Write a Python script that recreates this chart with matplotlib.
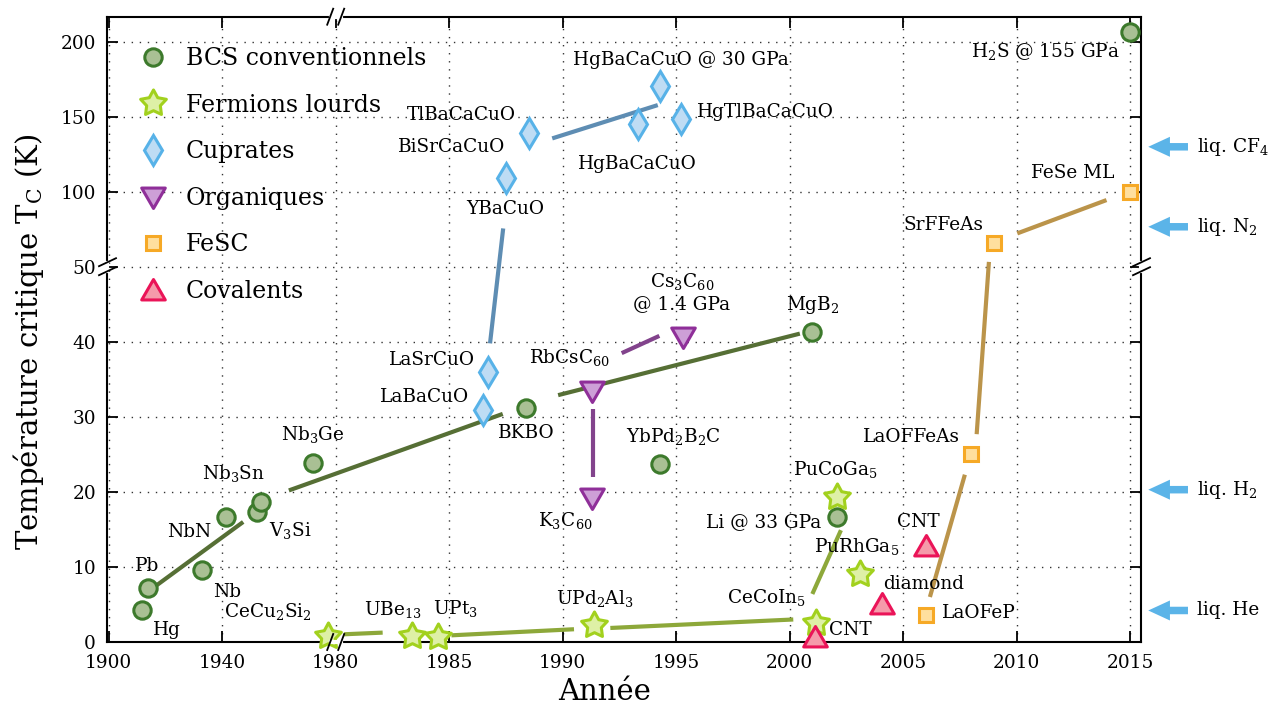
import numpy as np
import matplotlib
matplotlib.use("Agg")
import matplotlib.pyplot as plt
from matplotlib.path import Path
from matplotlib.lines import Line2D

plt.rcParams['font.family'] = ['DejaVu Serif']
plt.rcParams['mathtext.fontset'] = 'custom'
plt.rcParams['mathtext.rm'] = 'DejaVu Serif'
plt.rcParams['mathtext.default'] = 'regular'

# ---------------- data ----------------
bcs_names = ['Hg', 'Pb', 'Nb', 'NbN', 'V3Si', 'Nb3Sn', 'Nb3Ge', 'BKBO', 'MgB2', 'YbPd2B2C', 'Li', 'H2S']
bcs_year = [1911.8, 1914.0, 1933.0, 1941.2, 1952.2, 1953.7, 1972.1, 1988.4, 2001.0, 1994.3, 2002.1, 2015.0]
bcs_tc = [4.2, 7.2, 9.6, 16.7, 17.3, 18.7, 23.9, 31.2, 41.3, 23.7, 16.7, 206.5]

hf_names = ['CeCu2Si2', 'UBe13', 'UPt3', 'UPd2Al3', 'CeCoIn5', 'PuCoGa5', 'PuRhGa5']
hf_year = [1977.4, 1983.35, 1984.5, 1991.4, 2001.15, 2002.1, 2003.1]
hf_tc = [0.8, 0.8, 0.7, 2.2, 2.5, 19.3, 9.1]

cup_names = ['LaBaCuO', 'LaSrCuO', 'YBaCuO', 'BiSrCaCuO/TlBaCaCuO', 'HgBaCaCuO', 'HgBaCaCuO @ 30 GPa', 'HgTlBaCaCuO']
cup_year = [1986.5, 1986.7, 1987.5, 1988.5, 1993.3, 1994.3, 1995.2]
cup_tc = [30.9, 36.0, 108.9, 138.9, 145.1, 170.5, 148.3]

org_names = ['K3C60', 'RbCsC60', 'Cs3C60']
org_year = [1991.3, 1991.3, 1995.3]
org_tc = [19.2, 33.4, 40.6]

fesc_names = ['LaOFeP', 'LaOFFeAs', 'SrFFeAs', 'FeSe ML']
fesc_year = [2006.0, 2008.0, 2009.0, 2015.0]
fesc_tc = [3.6, 25.0, 65.6, 100.0]

cov_names = ['CNT', 'diamond', 'CNT']
cov_year = [2001.1, 2004.05, 2006.0]
cov_tc = [0.6, 5.0, 12.8]

# trend segments (year0, tc0, year1, tc1)
bcs_segs = [(1916.9, 7.56, 1947.4, 16.0), (1963.5, 20.2, 1987.36, 30.4), (1989.8, 32.9, 2000.45, 41.1)]
hf_segs = [(1980.37, 1.03, 1982.07, 1.25), (1985.1, 0.89, 1990.5, 1.7), (1992.1, 1.87, 2000.16, 3.0),
           (2001.0, 6.4, 2002.26, 14.9)]
cup_segs = [(1986.8, 39.8, 1987.38, 75.6), (1989.54, 135.6, 1994.19, 157.8)]
org_segs = [(1991.32, 31.1, 1991.32, 22.0), (1992.6, 38.5, 1994.26, 40.8)]
fesc_segs = [(2006.18, 6.0, 2007.72, 22.3), (2008.24, 27.7, 2008.78, 53.3), (2010.03, 72.3, 2013.96, 94.5)]

# liquid references
liq_labels = ['liq. CF$_4$', 'liq. N$_2$', 'liq. H$_2$', 'liq. He']
liq_tc = [130.0, 76.7, 20.3, 4.2]

# point labels: (text, year, tc, ha)
labels = [
    ('Hg', 1920.4, 1.56, 'center'), ('Pb', 1913.7, 10.1, 'center'), ('Nb', 1941.6, 6.67, 'center'),
    ('NbN', 1928.3, 14.6, 'center'), ('V$_3$Si', 1964.1, 14.9, 'center'),
    ('Nb$_3$Sn', 1943.9, 22.4, 'center'), ('Nb$_3$Ge', 1972.1, 27.6, 'center'),
    ('BKBO', 1988.38, 27.8, 'center'), ('MgB$_2$', 2001.03, 44.9, 'center'),
    ('YbPd$_2$B$_2$C', 1994.87, 27.4, 'center'), ('Li @ 33 GPa', 1998.84, 16.0, 'center'),
    ('H$_2$S @ 155 GPa', 2011.25, 193.3, 'center'),
    ('CeCu$_2$Si$_2$', 1956.25, 4.0, 'center'), ('UBe$_{13}$', 1982.51, 4.36, 'center'),
    ('UPt$_3$', 1985.26, 4.45, 'center'), ('UPd$_2$Al$_3$', 1991.42, 5.83, 'center'),
    ('CeCoIn$_5$', 1998.99, 5.92, 'center'), ('PuCoGa$_5$', 2002.0, 23.0, 'center'),
    ('PuRhGa$_5$', 2002.95, 12.76, 'center'),
    ('LaBaCuO', 1983.93, 32.7, 'center'), ('LaSrCuO', 1984.23, 37.65, 'center'),
    ('YBaCuO', 1987.46, 88.3, 'center'), ('BiSrCaCuO', 1985.11, 129.6, 'center'),
    ('TlBaCaCuO', 1985.55, 151.1, 'center'), ('HgBaCaCuO', 1993.3, 118.3, 'center'),
    ('HgBaCaCuO @ 30 GPa', 1995.2, 187.8, 'center'), ('HgTlBaCaCuO', 1995.9, 153.3, 'left'),
    ('RbCsC$_{60}$', 1990.32, 37.96, 'center'), ('Cs$_3$C$_{60}$', 1995.26, 48.1, 'center'),
    ('@ 1.4 GPa', 1995.26, 45.1, 'center'), ('K$_3$C$_{60}$', 1990.1, 16.2, 'center'),
    ('FeSe ML', 2012.49, 112.3, 'center'), ('SrFFeAs', 2006.77, 77.8, 'center'),
    ('LaOFFeAs', 2005.37, 27.3, 'center'), ('LaOFeP', 2006.7, 3.8, 'left'),
    ('diamond', 2005.89, 7.7, 'center'), ('CNT', 2005.67, 16.0, 'center'), ('CNT', 2002.66, 1.65, 'center'),
]

xticks = [1900, 1940, 1980, 1985, 1990, 1995, 2000, 2005, 2010, 2015]
yticks = [0, 10, 20, 30, 40, 50, 100, 150, 200]

# ---------------- scales ----------------
def xf(x):
    x = np.asarray(x, float)
    return np.where(x < 1980, 1980 - (1980 - x) / 8.0, x)

def xi(u):
    u = np.asarray(u, float)
    return np.where(u < 1980, 1980 - (1980 - u) * 8.0, u)

def yf(y):
    y = np.asarray(y, float)
    return np.where(y <= 50, y, 50 + (y - 50) / 5.0)

def yi(v):
    v = np.asarray(v, float)
    return np.where(v <= 50, v, 50 + (v - 50) * 5.0)

# markers
ang = np.pi / 2 + np.arange(10) * np.pi / 5
rad = np.where(np.arange(10) % 2 == 0, 1.0, 0.53)
star_verts = np.column_stack([rad * np.cos(ang), rad * np.sin(ang)])
star = Path(np.vstack([star_verts, star_verts[:1]]), closed=True)
tri_up = Path([(-1, -0.8), (1, -0.8), (0, 0.93), (-1, -0.8)], closed=True)
tri_dn = Path([(-1, 0.8), (1, 0.8), (0, -0.93), (-1, 0.8)], closed=True)

groups = [
    ('BCS conventionnels', bcs_year, bcs_tc, bcs_segs, 'o', 12.5, '#a9c094', '#3d7a2c', '#566f35'),
    ('Fermions lourds', hf_year, hf_tc, hf_segs, star, 19.5, '#def0a6', '#a2d11e', '#8da83a'),
    ('Cuprates', cup_year, cup_tc, cup_segs, 'd', 15.5, '#bedcf4', '#57b2e8', '#5e8db3'),
    ('Organiques', org_year, org_tc, org_segs, tri_dn, 17, '#cd9fd7', '#8f2f99', '#82438c'),
    ('FeSC', fesc_year, fesc_tc, fesc_segs, 's', 10.5, '#ffdf9e', '#f6a926', '#bb944a'),
    ('Covalents', cov_year, cov_tc, [], tri_up, 17, '#f59aaa', '#ea1458', '#ea1458'),
]

FS = 13.3
W, H = 1279, 713
fig = plt.figure(figsize=(W / 100, H / 100), dpi=100)
L, R, T, B = 107, 1141, 16.7, 642
ax = fig.add_axes([L / W, 1 - B / H, (R - L) / W, (B - T) / H])
ax.set_xscale('function', functions=(xf, xi))
ax.set_yscale('function', functions=(yf, yi))
ax.set_xlim(1899.4, 2015.48)
ax.set_ylim(0, 216.7)

ax.set_xticks(xticks)
ax.set_xticklabels([str(t) for t in xticks])
ax.set_yticks(yticks)
ax.set_yticklabels([str(t) for t in yticks])
ax.minorticks_off()
ax.tick_params(direction='in', length=8, width=1.3, top=True, right=True, labelsize=FS)
ax.tick_params(axis='x', pad=8.5)
ax.tick_params(axis='y', pad=8)
for s in ax.spines.values():
    s.set_linewidth(1.5)
ax.grid(True, color='#333333', linestyle=(0, (1, 4.8)), linewidth=1.0)
ax.set_axisbelow(True)

handles = []
for name, xs, ys, segs, mk, ms, fc, ec, lc in groups:
    for x0, y0, x1, y1 in segs:
        ax.plot([x0, x1], [y0, y1], color=lc, lw=3, solid_capstyle='butt', zorder=2)
    ax.plot(xs, ys, linestyle='none', marker=mk, markersize=ms, markerfacecolor=fc,
            markeredgecolor=ec, markeredgewidth=2.2, zorder=4, clip_on=False)
    handles.append(Line2D([], [], linestyle='none', marker=mk, markersize=ms, markerfacecolor=fc,
                          markeredgecolor=ec, markeredgewidth=2.2, label=name))

for txt, x, y, ha in labels:
    ax.text(x, y, txt, ha=ha, va='center', fontsize=FS, zorder=5)

for lab, t in zip(liq_labels, liq_tc):
    ax.annotate('', xy=(2015.8, t), xytext=(2017.55, t), annotation_clip=False,
                arrowprops=dict(arrowstyle='simple,head_width=1.2,head_length=1.3,tail_width=0.45',
                                mutation_scale=12, color='#5bb4e8', lw=0, shrinkA=0, shrinkB=0))
    ax.text(2017.95, t, lab, ha='left', va='center', fontsize=FS)

leg = ax.legend(handles=handles, loc='upper left', bbox_to_anchor=(0.01, 0.978), frameon=False,
                fontsize=17, labelspacing=1.0, handletextpad=0.6, handlelength=1.6,
                borderaxespad=0.3)

ax.set_xlabel('Année', fontsize=21)
ax.xaxis.set_label_coords((605 - L) / (R - L), -0.058)
ax.set_ylabel('Température critique T$_C$ (K)', fontsize=21)
ax.yaxis.set_label_coords((46 - L) / (R - L), (B - 342) / (B - T))

# axis breaks
aw, ah = R - L, B - T
xb = (335.7 - L) / aw
yb = (B - 266.7) / ah
for yy in (0.0, 1.0):
    ax.plot([xb - 5 / aw, xb + 5 / aw], [yy, yy], color='white', lw=3, transform=ax.transAxes,
            clip_on=False, zorder=6)
    for dx in (-5.5, 5.5):
        ax.plot([xb + (dx - 3) / aw, xb + (dx + 3) / aw], [yy - 8 / ah, yy + 8 / ah], color='black',
                lw=1.3, transform=ax.transAxes, clip_on=False, zorder=7)
for xx in (0.0, 1.0):
    ax.plot([xx, xx], [yb - 4 / ah, yb + 4 / ah], color='white', lw=3, transform=ax.transAxes,
            clip_on=False, zorder=6)
    for dy in (-4.5, 4.5):
        ax.plot([xx - 8 / aw, xx + 9 / aw], [yb + (dy - 4) / ah, yb + (dy + 4) / ah], color='black',
                lw=1.3, transform=ax.transAxes, clip_on=False, zorder=7)

fig.savefig('out.png', dpi=100)
